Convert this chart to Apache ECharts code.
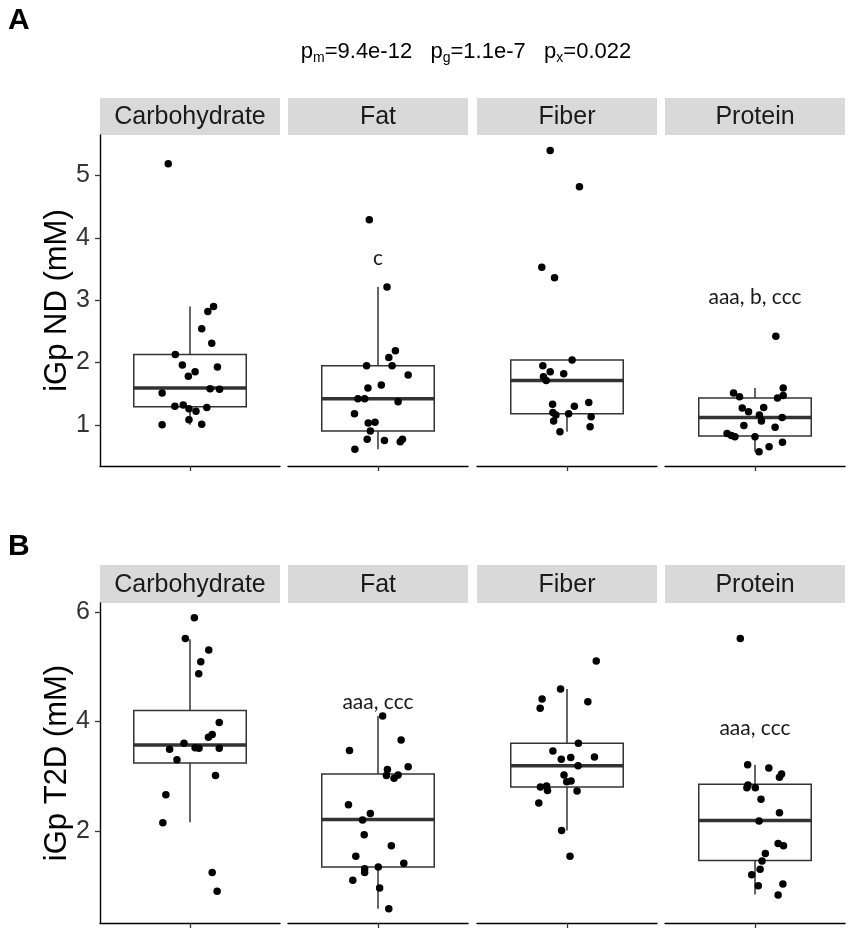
<!DOCTYPE html>
<html lang="en">
<head>
<meta charset="UTF-8">
<title>iGp by macronutrient</title>
<script src="https://cdn.jsdelivr.net/npm/echarts@6/dist/echarts.min.js"></script>
<style>html,body{margin:0;padding:0;background:#fff;}</style>
</head>
<body>
<div id="main" style="width:851px;height:935px;"></div>
<script type="text/javascript">
// facet names
var categories = ['Carbohydrate', 'Fat', 'Fiber', 'Protein'];

// panel A: iGp ND (mM), each point is [jitter, value]
var ndCarb = [[-0.145,5.19],[0.157,2.90],[0.119,2.82],[0.078,2.54],[0.145,2.31],[-0.098,2.13],[-0.051,1.96],[0.183,1.93],[0.034,1.85],[-0.011,1.78],[0.134,1.58],[0.197,1.57],[-0.186,1.51],[-0.101,1.30],[-0.045,1.32],[-0.007,1.26],[0.040,1.22],[0.112,1.28],[-0.007,1.08],[-0.186,1.00],[0.078,1.01]];
var ndFat = [[-0.058,4.29],[0.060,3.21],[0.116,2.19],[0.072,2.08],[-0.076,1.95],[0.094,1.95],[0.201,1.80],[0.022,1.64],[-0.067,1.59],[-0.134,1.42],[-0.089,1.42],[0.134,1.37],[-0.157,1.18],[-0.065,1.03],[-0.020,1.04],[-0.051,0.90],[-0.072,0.77],[0.043,0.75],[0.163,0.77],[0.148,0.73],[-0.154,0.61]];
var ndFiber = [[-0.112,5.40],[0.083,4.82],[-0.168,3.53],[-0.083,3.36],[0.034,2.04],[-0.161,1.95],[-0.112,1.85],[-0.022,1.82],[-0.157,1.77],[-0.139,1.71],[-0.096,1.33],[0.145,1.36],[0.049,1.30],[-0.094,1.20],[-0.074,1.16],[0.011,1.18],[0.161,1.13],[-0.089,1.06],[0.154,0.97],[-0.047,0.89]];
var ndProtein = [[0.139,2.42],[0.188,1.59],[-0.143,1.51],[-0.103,1.45],[0.188,1.47],[0.150,1.43],[-0.085,1.27],[0.058,1.28],[-0.043,1.21],[0.029,1.16],[0.181,1.12],[0.043,1.06],[-0.074,0.99],[0.134,0.96],[-0.186,0.86],[-0.157,0.83],[-0.134,0.81],[0.000,0.81],[0.183,0.72],[0.094,0.65],[0.027,0.57]];
// [lower whisker, Q1, median, Q3, upper whisker]
var ndBox = [[1.00,1.29,1.59,2.13,2.90],[0.61,0.90,1.42,1.95,3.21],[0.89,1.18,1.71,2.04,2.04],[0.57,0.82,1.12,1.43,1.59]];
var ndSig = ['', 'c', '', 'aaa, b, ccc'];
var ndSigY = [null, 3.68, null, 3.04];
var ndTicks = [1, 2, 3, 4, 5];
var ndRange = [0.34, 5.65];

// panel B: iGp T2D (mM)
var t2dCarb = [[0.029,5.89],[-0.031,5.51],[0.125,5.30],[0.072,5.09],[0.058,4.87],[0.195,3.98],[0.148,3.76],[0.123,3.71],[-0.040,3.60],[0.034,3.52],[0.060,3.51],[0.195,3.51],[-0.136,3.49],[-0.087,3.30],[0.170,3.01],[-0.161,2.66],[-0.181,2.15],[0.148,1.24],[0.181,0.90]];
var t2dFat = [[0.031,4.10],[0.154,3.66],[-0.190,3.47],[0.201,3.17],[0.063,3.12],[0.134,3.02],[0.056,3.01],[0.107,2.96],[-0.197,2.48],[-0.051,2.32],[-0.103,2.20],[-0.092,1.93],[0.089,1.73],[-0.148,1.54],[0.172,1.41],[0.002,1.34],[-0.089,1.31],[-0.089,1.24],[-0.168,1.10],[0.011,0.96],[0.072,0.58]];
var t2dFiber = [[0.195,5.10],[-0.043,4.59],[-0.166,4.41],[0.139,4.36],[-0.179,4.24],[0.076,3.60],[-0.094,3.46],[0.183,3.35],[0.025,3.34],[-0.038,3.31],[0.074,3.19],[-0.020,3.02],[0.027,2.91],[-0.002,2.90],[-0.136,2.82],[-0.177,2.80],[-0.130,2.74],[0.067,2.73],[-0.188,2.51],[-0.036,2.01],[0.020,1.54]];
var t2dProtein = [[-0.098,5.51],[-0.049,3.21],[0.092,3.15],[0.177,3.04],[0.163,2.98],[-0.047,2.84],[-0.054,2.79],[0.002,2.79],[0.040,2.58],[0.163,2.33],[0.027,2.18],[0.154,1.77],[0.190,1.73],[0.069,1.59],[0.047,1.45],[0.034,1.30],[-0.022,1.20],[0.022,1.00],[0.186,1.03],[0.154,0.83]];
var t2dBox = [[2.16,3.24,3.57,4.20,5.50],[0.58,1.34,2.21,3.04,4.10],[2.01,2.80,3.19,3.60,4.59],[0.84,1.46,2.19,2.85,3.21]];
var t2dSig = ['', 'aaa, ccc', '', 'aaa, ccc'];
var t2dSigY = [null, 4.34, null, 3.88];
var t2dTicks = [2, 4, 6];
var t2dRange = [0.32, 6.16];

// layout
var gridLefts = [100, 288, 477, 665];
var gridWidth = 180;
var panels = [
    { label: 'A', labelTop: 6, yTitle: 'iGp ND (mM)', top: 135, height: 331, stripTop: 98,
      pts: [ndCarb, ndFat, ndFiber, ndProtein], box: ndBox, sig: ndSig, sigY: ndSigY, ticks: ndTicks, range: ndRange },
    { label: 'B', labelTop: 532, yTitle: 'iGp T2D (mM)', top: 603, height: 320, stripTop: 565,
      pts: [t2dCarb, t2dFat, t2dFiber, t2dProtein], box: t2dBox, sig: t2dSig, sigY: t2dSigY, ticks: t2dTicks, range: t2dRange }
];
var boxHalf = 0.375;
var lineCol = '#333333';

function renderBox(params, api) {
    var lo = api.value(0), q1 = api.value(1), md = api.value(2), q3 = api.value(3), hi = api.value(4);
    var xl = api.coord([-boxHalf, md])[0], xr = api.coord([boxHalf, md])[0], xc = api.coord([0, md])[0];
    var yLo = api.coord([0, lo])[1], yQ1 = api.coord([0, q1])[1], yMd = api.coord([0, md])[1];
    var yQ3 = api.coord([0, q3])[1], yHi = api.coord([0, hi])[1];
    var thin = { stroke: lineCol, lineWidth: 1.5 };
    return {
        type: 'group',
        children: [
            { type: 'line', shape: { x1: xc, y1: yQ3, x2: xc, y2: yHi }, style: thin },
            { type: 'line', shape: { x1: xc, y1: yQ1, x2: xc, y2: yLo }, style: thin },
            { type: 'rect', shape: { x: xl, y: yQ3, width: xr - xl, height: yQ1 - yQ3 }, style: { fill: '#fff', stroke: lineCol, lineWidth: 1.5 } },
            { type: 'line', shape: { x1: xl, y1: yMd, x2: xr, y2: yMd }, style: { stroke: lineCol, lineWidth: 3.5 } }
        ]
    };
}

function makeSigRenderer(txt) {
    return function (params, api) {
        var p = api.coord([0, api.value(1)]);
        return {
            type: 'text',
            x: p[0], y: p[1],
            style: { text: txt, align: 'center', verticalAlign: 'middle',
                     fontFamily: 'Lato', fontSize: 21, fill: '#1a1a1a' }
        };
    };
}

var grids = [], xAxes = [], yAxes = [], series = [], graphics = [];

panels.forEach(function (pn, p) {
    graphics.push({ type: 'text', left: 8, top: pn.labelTop, z: 10,
        style: { text: pn.label, fontFamily: 'Liberation Sans', fontWeight: 'bold', fontSize: 30, fill: '#000' } });
    graphics.push({ type: 'text', x: 57, y: pn.top + pn.height / 2, rotation: Math.PI / 2,
        style: { text: pn.yTitle, fontFamily: 'Liberation Sans', fontSize: 31, fill: '#000', align: 'center', verticalAlign: 'middle' } });
    categories.forEach(function (cat, i) {
        var k = p * 4 + i;
        grids.push({ left: gridLefts[i], top: pn.top, width: gridWidth, height: pn.height });
        graphics.push({ type: 'rect', shape: { x: gridLefts[i], y: pn.stripTop, width: gridWidth, height: pn.top - pn.stripTop },
            style: { fill: '#d9d9d9' } });
        graphics.push({ type: 'text', x: gridLefts[i] + gridWidth / 2, y: pn.stripTop + (pn.top - pn.stripTop) / 2 + 1,
            style: { text: cat, fontFamily: 'Liberation Sans', fontSize: 25, fill: '#1a1a1a', align: 'center', verticalAlign: 'middle' } });
        xAxes.push({
            type: 'value', gridIndex: k, min: -0.6, max: 0.6,
            axisLine: { show: true, onZero: false, lineStyle: { color: '#000', width: 1.4 } },
            axisTick: { show: true, customValues: [0], length: 5, lineStyle: { color: '#333', width: 1.3 } },
            axisLabel: { show: false }, splitLine: { show: false }
        });
        var first = i === 0;
        yAxes.push({
            type: 'value', gridIndex: k, min: pn.range[0], max: pn.range[1],
            axisLine: { show: first, onZero: false, lineStyle: { color: '#000', width: 1.4 } },
            axisTick: { show: first, customValues: pn.ticks, length: 5, lineStyle: { color: '#333', width: 1.3 } },
            axisLabel: { show: first, customValues: pn.ticks, margin: 10, fontFamily: 'Liberation Sans', fontSize: 25, color: '#333' },
            splitLine: { show: false }
        });
        series.push({
            type: 'custom', xAxisIndex: k, yAxisIndex: k, renderItem: renderBox,
            data: [pn.box[i]], silent: true, z: 2
        });
        series.push({
            type: 'scatter', xAxisIndex: k, yAxisIndex: k, data: pn.pts[i],
            symbolSize: 7.5, itemStyle: { color: '#000', opacity: 1 }, silent: true, z: 3
        });
        if (pn.sig[i]) {
            series.push({
                type: 'custom', xAxisIndex: k, yAxisIndex: k, renderItem: makeSigRenderer(pn.sig[i]),
                data: [[0, pn.sigY[i]]], silent: true, z: 4
            });
        }
    });
});

// p-values line above panel A
graphics.push({
    type: 'text', x: 466, y: 52,
    style: {
        text: '{n|p}{s|m}{n|=9.4e-12   p}{s|g}{n|=1.1e-7   p}{s|x}{n|=0.022}',
        align: 'center', verticalAlign: 'middle',
        rich: {
            n: { fontFamily: 'Liberation Sans', fontSize: 22, fill: '#000', lineHeight: 26 },
            s: { fontFamily: 'Liberation Sans', fontSize: 14, fill: '#000', lineHeight: 26, padding: [13, 0, 0, 0] }
        }
    }
});

var myChart = echarts.init(document.getElementById('main'));
myChart.setOption({
    animation: false,
    backgroundColor: '#fff',
    grid: grids,
    xAxis: xAxes,
    yAxis: yAxes,
    series: series,
    graphic: graphics
});
</script>
</body>
</html>
